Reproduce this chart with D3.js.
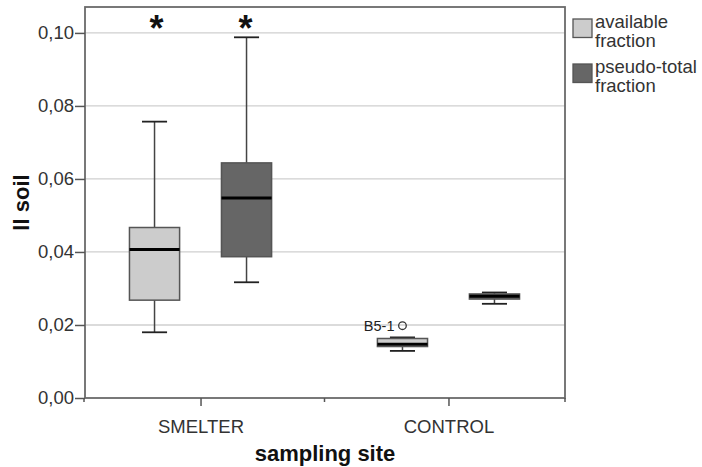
<!DOCTYPE html>
<html>
<head>
<meta charset="utf-8">
<script src="https://cdn.jsdelivr.net/npm/d3@7"></script>
<style>
  body { margin: 0; background: #fff; }
  text { font-family: "Liberation Sans", Arial, sans-serif; }
</style>
</head>
<body>
<div class="box-chart"></div>
<script>
// categories
var sites = ["SMELTER", "CONTROL"];
var fractions = ["available fraction", "pseudo-total fraction"];
var legendLines = [["available", "fraction"], ["pseudo-total", "fraction"]];

// box statistics per site (SMELTER, CONTROL)
var availLow  = [0.0180, 0.0129];
var availQ1   = [0.0268, 0.0141];
var availMed  = [0.0407, 0.0147];
var availQ3   = [0.0467, 0.0163];
var availHigh = [0.0757, 0.0166];

var pseudoLow  = [0.0317, 0.0258];
var pseudoQ1   = [0.0387, 0.0271];
var pseudoMed  = [0.0548, 0.0279];
var pseudoQ3   = [0.0644, 0.0285];
var pseudoHigh = [0.0988, 0.0289];

// outliers and markers
var outlierSite = ["CONTROL"];
var outlierFraction = ["available fraction"];
var outlierValue = [0.0198];
var outlierLabel = ["B5-1"];

var starSite = ["SMELTER", "SMELTER"];
var starFraction = ["available fraction", "pseudo-total fraction"];
var starValue = [0.1027, 0.1027];

var yTicks = [0, 0.02, 0.04, 0.06, 0.08, 0.10];

(function () {
  var width = 702, height = 467;
  var plotLeft = 85, plotRight = 565, plotTop = 7, plotBottom = 398;

  var svg = d3.select(".box-chart")
    .append("svg")
    .attr("width", width)
    .attr("height", height);

  var y = d3.scaleLinear()
    .domain([0, 0.1071])
    .range([plotBottom, plotTop]);

  var x = d3.scalePoint()
    .domain(sites)
    .range([plotLeft - 1, plotRight])
    .padding(0.47);

  var sub = d3.scaleBand()
    .domain(fractions)
    .range([-92, 92]);

  var color = d3.scaleOrdinal()
    .domain(fractions)
    .range(["#cccccc", "#666666"]);

  var boxW = sub.bandwidth() * 0.545;

  var fmt = function (d) { return d3.format(".2f")(d).replace(".", ","); };

  /* ------- GRID -------*/
  svg.append("g")
    .selectAll("line")
    .data(yTicks.filter(function (d) { return d > 0; }))
    .enter().append("line")
    .attr("x1", plotLeft).attr("x2", plotRight)
    .attr("y1", function (d) { return y(d); })
    .attr("y2", function (d) { return y(d); })
    .attr("stroke", "#cfcfcf")
    .attr("stroke-width", 1.3);

  /* ------- BOXES -------*/
  var rows = [];
  sites.forEach(function (s, i) {
    rows.push({ site: s, fraction: fractions[0], low: availLow[i], q1: availQ1[i], med: availMed[i], q3: availQ3[i], high: availHigh[i] });
    rows.push({ site: s, fraction: fractions[1], low: pseudoLow[i], q1: pseudoQ1[i], med: pseudoMed[i], q3: pseudoQ3[i], high: pseudoHigh[i] });
  });

  var cx = function (site, fraction) { return x(site) + sub(fraction) + sub.bandwidth() / 2; };

  var box = svg.append("g").selectAll("g")
    .data(rows)
    .enter().append("g");

  // whiskers
  box.append("line")
    .attr("x1", function (d) { return cx(d.site, d.fraction); })
    .attr("x2", function (d) { return cx(d.site, d.fraction); })
    .attr("y1", function (d) { return y(d.low); })
    .attr("y2", function (d) { return y(d.high); })
    .attr("stroke", "#444")
    .attr("stroke-width", 1.5);

  box.selectAll("line.cap")
    .data(function (d) { return [{ d: d, v: d.low }, { d: d, v: d.high }]; })
    .enter().append("line")
    .attr("class", "cap")
    .attr("x1", function (e) { return cx(e.d.site, e.d.fraction) - boxW / 4; })
    .attr("x2", function (e) { return cx(e.d.site, e.d.fraction) + boxW / 4; })
    .attr("y1", function (e) { return y(e.v); })
    .attr("y2", function (e) { return y(e.v); })
    .attr("stroke", "#222")
    .attr("stroke-width", 1.8);

  box.append("rect")
    .attr("x", function (d) { return cx(d.site, d.fraction) - boxW / 2; })
    .attr("width", boxW)
    .attr("y", function (d) { return y(d.q3); })
    .attr("height", function (d) { return y(d.q1) - y(d.q3); })
    .attr("fill", function (d) { return color(d.fraction); })
    .attr("stroke", "#555")
    .attr("stroke-width", 1.5);

  box.append("line")
    .attr("x1", function (d) { return cx(d.site, d.fraction) - boxW / 2; })
    .attr("x2", function (d) { return cx(d.site, d.fraction) + boxW / 2; })
    .attr("y1", function (d) { return y(d.med); })
    .attr("y2", function (d) { return y(d.med); })
    .attr("stroke", "#000")
    .attr("stroke-width", 3);

  /* ------- OUTLIERS -------*/
  var out = svg.append("g").selectAll("g")
    .data(outlierValue)
    .enter().append("g");

  out.append("circle")
    .attr("cx", function (d, i) { return cx(outlierSite[i], outlierFraction[i]); })
    .attr("cy", function (d) { return y(d); })
    .attr("r", 3.8)
    .attr("fill", "none")
    .attr("stroke", "#333")
    .attr("stroke-width", 1.3);

  out.append("text")
    .attr("x", function (d, i) { return cx(outlierSite[i], outlierFraction[i]) - 8; })
    .attr("y", function (d) { return y(d) + 5; })
    .attr("text-anchor", "end")
    .attr("font-size", 14.5)
    .attr("fill", "#222")
    .text(function (d, i) { return outlierLabel[i]; });

  svg.append("g").selectAll("text")
    .data(starValue)
    .enter().append("text")
    .attr("x", function (d, i) { return cx(starSite[i], starFraction[i]) + (i === 0 ? 2 : -1); })
    .attr("y", function (d) { return y(d) + 18; })
    .attr("text-anchor", "middle")
    .attr("font-size", 36)
    .attr("font-weight", "bold")
    .attr("fill", "#111")
    .text("*");

  /* ------- FRAME & AXES -------*/
  svg.append("rect")
    .attr("x", plotLeft).attr("y", plotTop)
    .attr("width", plotRight - plotLeft).attr("height", plotBottom - plotTop)
    .attr("fill", "none")
    .attr("stroke", "#6a6a6a")
    .attr("stroke-width", 1.8);

  var yAxis = svg.append("g")
    .attr("transform", "translate(" + plotLeft + ",0)")
    .call(d3.axisLeft(y).tickValues(yTicks).tickFormat(fmt).tickSize(10).tickPadding(1));
  yAxis.select(".domain").remove();
  yAxis.selectAll("line").attr("stroke", "#555").attr("stroke-width", 1.5);
  yAxis.selectAll("text")
    .attr("font-size", 18.5)
    .attr("fill", "#333")
    .attr("font-family", "Liberation Sans, Arial, sans-serif");

  var xAxis = svg.append("g")
    .attr("transform", "translate(0," + plotBottom + ")")
    .call(d3.axisBottom(x).tickSize(8).tickPadding(14));
  xAxis.select(".domain").remove();
  xAxis.selectAll("line").attr("stroke", "#555").attr("stroke-width", 1.5);
  xAxis.selectAll("text")
    .attr("font-size", 18.5)
    .attr("fill", "#333")
    .attr("font-family", "Liberation Sans, Arial, sans-serif");

  // minor ticks between and at the ends of categories
  var minor = [plotLeft - 1, (x(sites[0]) + x(sites[1])) / 2, plotRight];
  svg.append("g").selectAll("line")
    .data(minor)
    .enter().append("line")
    .attr("x1", function (d) { return d; }).attr("x2", function (d) { return d; })
    .attr("y1", plotBottom).attr("y2", plotBottom + 4)
    .attr("stroke", "#555")
    .attr("stroke-width", 1.5);

  svg.append("text")
    .attr("x", (plotLeft + plotRight) / 2)
    .attr("y", 461)
    .attr("text-anchor", "middle")
    .attr("font-size", 22)
    .attr("font-weight", "bold")
    .attr("fill", "#111")
    .text("sampling site");

  svg.append("text")
    .attr("transform", "translate(29," + (plotTop + plotBottom) / 2 + ") rotate(-90)")
    .attr("text-anchor", "middle")
    .attr("font-size", 22)
    .attr("font-weight", "bold")
    .attr("fill", "#111")
    .text("ll soil");

  /* ------- LEGEND -------*/
  var legend = svg.append("g").selectAll("g")
    .data(fractions)
    .enter().append("g")
    .attr("transform", function (d, i) { return "translate(573," + (19 + i * 45) + ")"; });

  legend.append("rect")
    .attr("width", 19).attr("height", 18.5)
    .attr("fill", function (d) { return color(d); })
    .attr("stroke", "#555")
    .attr("stroke-width", 1.3);

  legend.selectAll("text")
    .data(function (d, i) { return legendLines[i]; })
    .enter().append("text")
    .attr("x", 22)
    .attr("y", function (d, j) { return 9 + j * 19; })
    .attr("font-size", 18.5)
    .attr("fill", "#333")
    .text(function (d) { return d; });
})();
</script>
</body>
</html>
